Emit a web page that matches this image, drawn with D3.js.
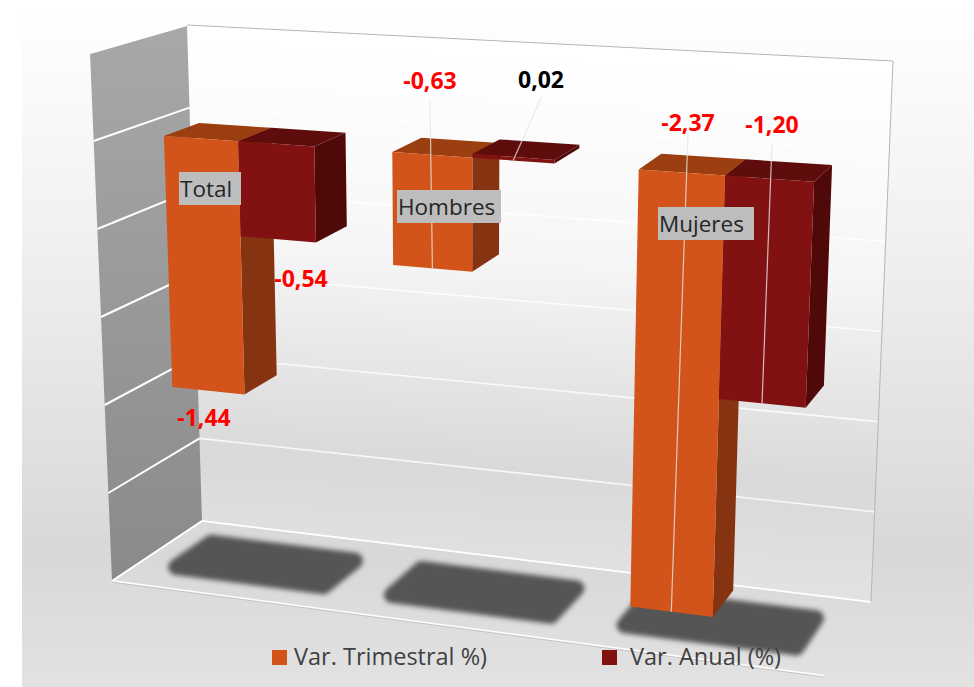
<!DOCTYPE html>
<html>
<head>
<meta charset="utf-8">
<script src="https://cdnjs.cloudflare.com/ajax/libs/d3/7.8.5/d3.min.js"></script>
<style>
    html, body { margin: 0; padding: 0; background: #fff; }
    svg { display: block; }
    text { font-family: "Open Sans", sans-serif; }
</style>
</head>
<body>
<svg></svg>
<script>
// Data
const categories = ["Total", "Hombres", "Mujeres"];
const seriesNames = ["Var. Trimestral %)", "Var. Anual (%)"];
const trimestral = [-1.44, -0.63, -2.37];
const anual = [-0.54, 0.02, -1.20];
const gridTicks = [0.5, 0, -0.5, -1, -1.5, -2, -2.5];

let width = 974, height = 687;

let svg = d3.select("svg")
    .attr("width", width)
    .attr("height", height)
    .attr("viewBox", "0 0 " + width + " " + height);

// Corners of the 3D box on screen: b = back wall, f = front, t = top, d = down, l/r
const box = {
    btl: [187, 25], btr: [893, 61], bdl: [202, 521], bdr: [871, 602],
    ftl: [90, 53], ftr: [849, 100], fdl: [112, 581], fdr: [825, 676]
};
const lerp = (a, b, t) => [a[0] + (b[0] - a[0]) * t, a[1] + (b[1] - a[1]) * t];
const foreshorten = 0.89; // left side of the box is further away

const x0 = d3.scaleBand().domain(categories).range([0.015, 1.004]).paddingInner(0.333).paddingOuter(0.1665);
const x1 = d3.scaleBand().domain(seriesNames).range([0, x0.bandwidth()]);
const y = d3.scaleLinear().domain([0.5, -2.5]).range([0, 1]);
const barBack = 0.37, barFront = 0.75;

function project(u, value, w) {
    const s = u * foreshorten / ((1 - u) + u * foreshorten);
    const t = y(value);
    const back = lerp(lerp(box.btl, box.btr, s), lerp(box.bdl, box.bdr, s), t);
    const front = lerp(lerp(box.ftl, box.ftr, s), lerp(box.fdl, box.fdr, s), t);
    return lerp(back, front, w);
}
const poly = pts => "M" + pts.map(p => p[0].toFixed(1) + "," + p[1].toFixed(1)).join("L") + "Z";

// Gradients
const defs = svg.append("defs");
function gradient(id, x1g, y1g, x2g, y2g, stops) {
    const g = defs.append("linearGradient").attr("id", id)
        .attr("gradientUnits", "userSpaceOnUse")
        .attr("x1", x1g).attr("y1", y1g).attr("x2", x2g).attr("y2", y2g);
    stops.forEach(s => g.append("stop").attr("offset", s[0]).attr("stop-color", s[1]));
}
gradient("bg", 0, 7, 0, 687, [[0, "#ffffff"], [0.35, "#f0f0f0"], [0.8, "#d8d8d8"], [1, "#e2e2e2"]]);
gradient("wall", 0, 30, -30, 600, [[0, "#ffffff"], [0.35, "#f6f6f6"], [0.72, "#d9d9d9"], [1, "#e6e6e6"]]);
gradient("side", 0, 30, 0, 580, [[0, "#a8a8a8"], [1, "#8a8a8a"]]);
defs.append("filter").attr("id", "blur")
    .attr("x", "-20%").attr("y", "-40%").attr("width", "140%").attr("height", "180%")
    .append("feGaussianBlur").attr("stdDeviation", 2.5);

// Background
svg.append("rect").attr("x", 22).attr("y", 7).attr("width", width - 22).attr("height", height - 7)
    .attr("fill", "url(#bg)");

// Walls
svg.append("path").attr("d", poly([box.btl, box.btr, box.bdr, box.bdl])).attr("fill", "url(#wall)");
svg.append("path").attr("d", poly([box.ftl, box.btl, box.bdl, box.fdl])).attr("fill", "url(#side)");

// Gridlines on the back wall and left wall
const grid = svg.append("g").attr("fill", "none").attr("stroke", "#fff");
gridTicks.forEach(v => {
    const a = project(0, v, 1), b = project(0, v, 0), c = project(1, v, 0);
    grid.append("path").attr("d", "M" + a + "L" + b).attr("stroke-width", 2);
    grid.append("path").attr("d", "M" + b + "L" + c).attr("stroke-width", 1.6).attr("stroke-opacity", 0.8);
});

// Box outline
svg.append("path").attr("d", "M" + box.btl + "L" + box.btr + "L" + box.bdr)
    .attr("fill", "none").attr("stroke", "#b5b5b5").attr("stroke-width", 1);
svg.append("path").attr("d", "M" + box.bdl + "L" + box.bdr + "M" + box.fdl + "L" + box.bdl)
    .attr("fill", "none").attr("stroke", "#fff").attr("stroke-width", 1.5);
svg.append("path").attr("d", "M" + box.fdl + "L" + box.fdr)
    .attr("fill", "none").attr("stroke", "#fff").attr("stroke-width", 2);
svg.append("path").attr("d", "M" + box.fdl + "L" + box.fdr)
    .attr("fill", "none").attr("stroke", "#a8a8a8").attr("stroke-width", 0.6)
    .attr("transform", "translate(0,1)");

// Shadows on the floor
svg.append("g").selectAll("path")
    .data(categories)
    .enter()
    .append("path")
    .attr("d", d => {
        const a = x0(d) - 0.012, b = x0(d) + x0.bandwidth() - 0.004;
        const floor = y.domain()[1];
        return poly([project(a, floor, 0.29), project(b, floor, 0.29), project(b, floor, 0.69), project(a, floor, 0.69)]);
    })
    .attr("fill", "#555")
    .attr("stroke", "#555")
    .attr("stroke-width", 16)
    .attr("stroke-linejoin", "round")
    .attr("filter", "url(#blur)");

// Bars
const colors = [
    { front: "#d3541b", top: "#9c3f10", side: "#853311" },
    { front: "#821212", top: "#5e0c0c", side: "#4f0909" }
];
const bars = [];
categories.forEach((c, i) => {
    bars.push({ cat: c, s: 0, value: trimestral[i] });
    bars.push({ cat: c, s: 1, value: anual[i] });
});
const barG = svg.append("g");
bars.forEach(d => {
    const a = x0(d.cat) + x1(seriesNames[d.s]), b = a + x1.bandwidth();
    const hi = Math.max(d.value, 0), lo = Math.min(d.value, 0);
    const col = colors[d.s];
    barG.append("path").attr("fill", col.side)
        .attr("d", poly([project(b, hi, barFront), project(b, hi, barBack), project(b, lo, barBack), project(b, lo, barFront)]));
    barG.append("path").attr("fill", col.top)
        .attr("d", poly([project(a, hi, barFront), project(a, hi, barBack), project(b, hi, barBack), project(b, hi, barFront)]));
    barG.append("path").attr("fill", col.front)
        .attr("d", poly([project(a, hi, barFront), project(b, hi, barFront), project(b, lo, barFront), project(a, lo, barFront)]));
});

// Value labels, positions picked by hand like in the original chart
const fmt = d3.formatLocale({ decimal: ",", thousands: ".", grouping: [3], currency: ["", ""], minus: "-" }).format(".2f");
const labelPos = [
    { x: 204, y: 426, lineFrom: null },
    { x: 301, y: 287, lineFrom: null },
    { x: 430, y: 89, lineFrom: [430, 100] },
    { x: 541, y: 88, lineFrom: [541, 98] },
    { x: 688, y: 131, lineFrom: [688, 133] },
    { x: 772, y: 133, lineFrom: [772, 143] }
];
bars.forEach((d, i) => {
    const p = labelPos[i];
    if (p.lineFrom) {
        const a = x0(d.cat) + x1(seriesNames[d.s]) + x1.bandwidth() / 2;
        const end = d.value < 0 ? project(a, d.value, barFront) : project(a, 0, barFront);
        svg.append("line")
            .attr("x1", p.lineFrom[0]).attr("y1", p.lineFrom[1])
            .attr("x2", end[0]).attr("y2", end[1])
            .attr("stroke", "#e6e6e6").attr("stroke-opacity", 0.8).attr("stroke-width", 1.2);
    }
    svg.append("text")
        .attr("x", p.x).attr("y", p.y)
        .attr("text-anchor", "middle")
        .attr("font-size", "23px")
        .attr("font-weight", "bold")
        .attr("fill", d.value < 0 ? "#ff0000" : "#000")
        .text(fmt(d.value));
});

// Category labels on grey boxes
const catPos = [[179, 172, 62], [397, 190, 104], [658, 207, 96]];
categories.forEach((c, i) => {
    const p = catPos[i];
    svg.append("rect").attr("x", p[0]).attr("y", p[1]).attr("width", p[2]).attr("height", 33).attr("fill", "#bdbdbd");
    svg.append("text").attr("x", p[0] + 1).attr("y", p[1] + 25)
        .attr("font-size", "22.5px").attr("fill", "#262626").text(c);
});

// Legend
const legendPos = [[272, 294], [602, 630]];
seriesNames.forEach((n, i) => {
    svg.append("rect").attr("x", legendPos[i][0]).attr("y", 650).attr("width", 15).attr("height", 15)
        .attr("fill", colors[i].front);
    svg.append("text").attr("x", legendPos[i][1]).attr("y", 665)
        .attr("font-size", "23.5px").attr("fill", "#404040").text(n);
});
</script>
</body>
</html>
